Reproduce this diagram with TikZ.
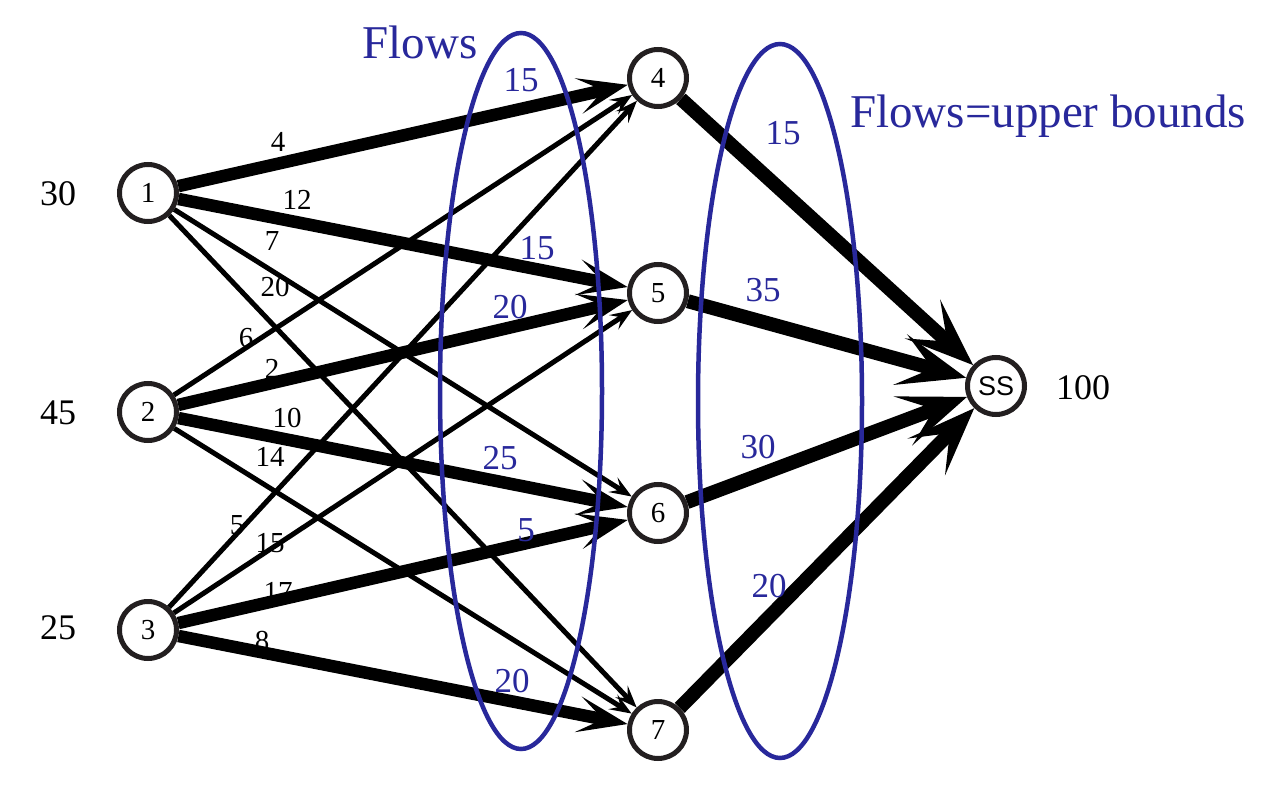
\documentclass[tikz,border=0pt]{standalone}
\usepackage{fontspec}
\setmainfont{Liberation Serif}
\newfontfamily\ssfont{Liberation Sans}
\usetikzlibrary{arrows.meta}
\definecolor{fblue}{RGB}{40,40,155}
\definecolor{nodeline}{RGB}{35,31,32}
\begin{document}
\begin{tikzpicture}[x=1pt,y=-1pt,
  vert/.style={circle,draw=nodeline,line width=5pt,fill=white,minimum size=57pt,inner sep=0pt,font=\fontsize{29}{30}\selectfont},
  lightarc/.style={line width=5pt,-{Stealth[length=22pt,width=17pt,inset=9pt]}},
  heavyarc/.style={line width=12.5pt,-{Stealth[length=50pt,width=36pt,inset=25pt]}},
  sinkarc/.style={line width=14pt,-{Stealth[length=68pt,width=52pt,inset=33pt]}},
  lbl/.style={font=\fontsize{29}{30}\selectfont,inner sep=0pt},
  flbl/.style={text=fblue,font=\fontsize{35}{36}\selectfont,inner sep=0pt},
  side/.style={font=\fontsize{36}{38}\selectfont,inner sep=0pt},
  title/.style={text=fblue,font=\fontsize{47}{50}\selectfont,inner sep=0pt},
  oval/.style={draw=fblue,line width=4.5pt}
]
\useasboundingbox (0,0) rectangle (1286,789);
\fill[white] (0,0) rectangle (1286,789);

% vertices
\node[vert] (n1) at (148,193) {1};
\node[vert] (n2) at (148,412) {2};
\node[vert] (n3) at (148,630) {3};
\node[vert] (n4) at (658,78) {4};
\node[vert] (n5) at (658,293) {5};
\node[vert] (n6) at (658,513) {6};
\node[vert] (n7) at (658,730) {7};
\node[vert,font=\ssfont\fontsize{27}{28}\selectfont] (ss) at (996,386) {SS};

% arcs
\draw[heavyarc] (n1) -- (n4);
\draw[heavyarc] (n1) -- (n5);
\draw[lightarc] (n1) -- (n6);
\draw[lightarc] (n1) -- (n7);
\draw[lightarc] (n2) -- (n4);
\draw[heavyarc] (n2) -- (n5);
\draw[heavyarc] (n2) -- (n6);
\draw[lightarc] (n2) -- (n7);
\draw[lightarc] (n3) -- (n4);
\draw[lightarc] (n3) -- (n5);
\draw[heavyarc] (n3) -- (n6);
\draw[heavyarc] (n3) -- (n7);
\draw[sinkarc] (n4) -- (ss);
\draw[sinkarc] (n5) -- (ss);
\draw[sinkarc] (n6) -- (ss);
\draw[sinkarc] (n7) -- (ss);

% cost labels
\node[lbl] (c14) at (278,142) {4};
\node[lbl] (c15) at (297,200) {12};
\node[lbl] (c16) at (272,241) {7};
\node[lbl] (c17) at (275,287) {20};
\node[lbl] (c24) at (246,338) {6};
\node[lbl] (c25) at (272,369) {2};
\node[lbl] (c26) at (287,418) {10};
\node[lbl] (c27) at (270,457) {14};
\node[lbl] (c34) at (237,525) {5};
\node[lbl] (c35) at (270,543) {15};
\node[lbl] (c36) at (278,592) {17};
\node[lbl] (c37) at (262,641) {8};

% flow labels
\node[flbl] (f14) at (521,80) {15};
\node[flbl] (f15) at (537,248) {15};
\node[flbl] (f25) at (510,307) {20};
\node[flbl] (f26) at (500,458) {25};
\node[flbl] (f36) at (526,530) {5};
\node[flbl] (f37) at (512,681) {20};
\node[flbl] (f4s) at (783,133) {15};
\node[flbl] (f5s) at (763,290) {35};
\node[flbl] (f6s) at (758,447) {30};
\node[flbl] (f7s) at (769,586) {20};

% supplies / demand
\node[side] (s1) at (58,194) {30};
\node[side] (s2) at (58,413) {45};
\node[side] (s3) at (58,628) {25};
\node[side] (d) at (1083,388) {100};

% titles
\node[title] (t1) at (420,42) {Flows};
\node[title,anchor=west] (t2) at (850,116) {Flows=upper bounds};

% ovals
\draw[oval] (521,391) ellipse [x radius=81pt, y radius=358pt];
\draw[oval] (780,401) ellipse [x radius=82pt, y radius=357pt];
\end{tikzpicture}
\end{document}
